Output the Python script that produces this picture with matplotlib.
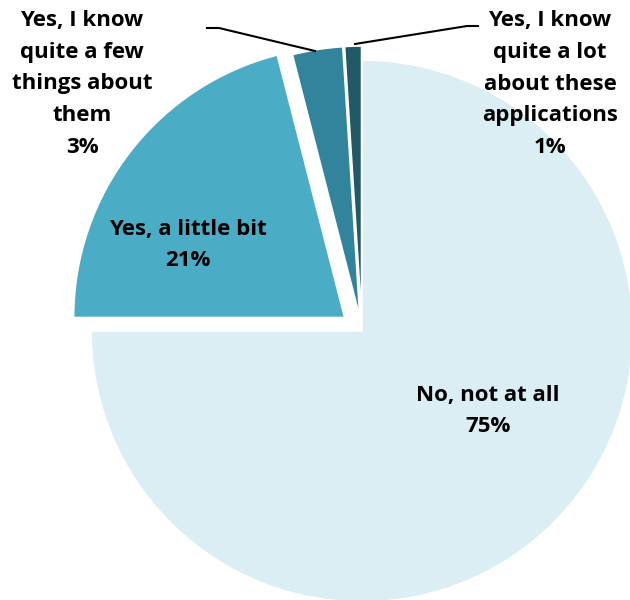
import matplotlib.pyplot as plt

# 응답 데이터
answers = ['No, not at all', 'Yes, a little bit',
           'Yes, I know\nquite a few\nthings about\nthem',
           'Yes, I know\nquite a lot\nabout these\napplications']
shares = [75, 21, 3, 1]
colors = ['#DAEEF3', '#4BACC6', '#31849B', '#215968']
explode = [0, 22, 14, 14]

W, H = 630, 600

fig = plt.figure(figsize=(W / 100, H / 100), dpi=100)
ax = fig.add_axes([0, 0, 1, 1])

# 파이 차트 (픽셀 좌표계, 12시 방향부터 시계 방향)
cx, cy, r = 362, H - 331, 271
ax.pie(shares, colors=colors, explode=explode, startangle=90, counterclock=False,
       center=(cx, cy), radius=r,
       wedgeprops=dict(edgecolor='white', linewidth=1.2))

ax.set_xlim(0, W)
ax.set_ylim(0, H)
ax.set_aspect('equal')
ax.axis('off')

font = dict(family=['Open Sans', 'DejaVu Sans'], fontsize=16, fontweight='bold',
            ha='center', va='center', linespacing=1.68, color='black')

# 라벨 위치 (픽셀, 위에서부터)
label_pos = [(488, 411), (188, 245), (82, 84), (550, 84)]
for name, val, (x, y) in zip(answers, shares, label_pos):
    ax.text(x, H - y, f'{name}\n{val}%', **font)

# 작은 조각 지시선
ax.plot([207, 219, 315], [H - 28, H - 28, H - 51], color='black', lw=1.5)
ax.plot([355, 467, 478], [H - 44, H - 26, H - 26], color='black', lw=1.5)

plt.savefig('out.png', dpi=100)
